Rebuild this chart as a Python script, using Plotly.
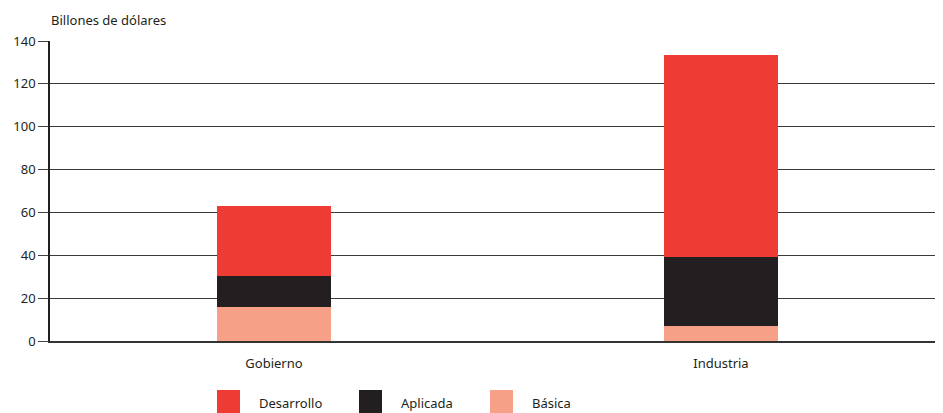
import plotly.graph_objects as go

categories = ["Gobierno", "Industria"]
basica = [16, 7]
aplicada = [14.5, 32]
desarrollo = [32.5, 94.5]

series_names = ["Desarrollo", "Aplicada", "Básica"]
colors = {"Desarrollo": "#EE3B33", "Aplicada": "#231F20", "Básica": "#F6A088"}

fig = go.Figure()
for name, vals in [("Básica", basica), ("Aplicada", aplicada), ("Desarrollo", desarrollo)]:
    fig.add_trace(go.Bar(x=categories, y=vals, name=name,
                         marker=dict(color=colors[name], line=dict(width=0)),
                         showlegend=False))

font_family = "Noto Sans, Open Sans, sans-serif"

OFF = 8  # page body margin
W, H = 935, 405
ml, mr, mt, mb = 42, 3, 33, 72
pw = W - ml - mr
ph = H - mt - mb


def px_x(x):
    return (x - OFF - ml) / pw


def px_y(y):
    return (H - mb - (y - OFF)) / ph


legend_x = [217, 359, 490]
shapes = []
annotations = []
for name, px in zip(series_names, legend_x):
    shapes.append(dict(type="rect", xref="paper", yref="paper",
                       x0=px_x(px), x1=px_x(px + 23),
                       y0=px_y(413), y1=px_y(390),
                       fillcolor=colors[name], line=dict(width=0)))
    annotations.append(dict(xref="paper", yref="paper", x=px_x(px + 40),
                            y=px_y(403), text=name, showarrow=False,
                            xanchor="left", yanchor="middle",
                            font=dict(size=13, color="#231F20", family=font_family)))

annotations.append(dict(xref="paper", yref="paper", x=px_x(49), y=px_y(20),
                        text="Billones de dólares", showarrow=False,
                        xanchor="left", yanchor="middle",
                        font=dict(size=13, color="#231F20", family=font_family)))

fig.update_layout(
    barmode="stack",
    bargap=0.745,
    width=W, height=H,
    margin=dict(l=ml, r=mr, t=mt, b=mb),
    plot_bgcolor="white", paper_bgcolor="white",
    font=dict(family=font_family, size=13, color="#231F20"),
    shapes=shapes,
    annotations=annotations,
    xaxis=dict(showgrid=False, showline=True, linecolor="#333333", linewidth=2,
               ticks="", tickfont=dict(size=13), range=[-0.501, 1.49],
               ticklabelstandoff=9),
    yaxis=dict(range=[0, 140], dtick=20, showgrid=True, gridcolor="#3a3a3a",
               gridwidth=1, showline=True, linecolor="#231F20", linewidth=1.5,
               ticks="outside", ticklen=10, tickcolor="#444444", tickwidth=1,
               zeroline=False, tickfont=dict(size=13)),
)

fig.write_html("out.html")
